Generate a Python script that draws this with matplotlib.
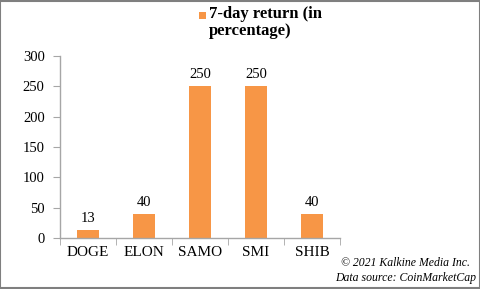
import matplotlib
matplotlib.use("Agg")
import matplotlib.pyplot as plt
from matplotlib.patches import Rectangle

categories = ["DOGE", "ELON", "SAMO", "SMI", "SHIB"]
values = [13, 40, 250, 250, 40]
series_name = "7-day return (in\npercentage)"
yticks = [0, 50, 100, 150, 200, 250, 300]

plt.rcParams['font.family'] = ['Liberation Serif', 'DejaVu Serif']
color = "#F79646"
axis_color = "#A6A6A6"
W, H = 481, 289

fig = plt.figure(figsize=(4.81, 2.89), dpi=100)
ax = fig.add_axes([60/W, 1-238/H, 280/W, 182/H])

x = list(range(len(categories)))
bars = ax.bar(x, values, width=0.4, color=color, zorder=2)
for xi, v in zip(x, values):
    ax.text(xi, v + 8, str(v), ha='center', va='bottom', fontsize=10.5, color='black')

ax.set_xlim(-0.5, len(categories) - 0.5)
ax.set_ylim(0, 300)
ax.set_yticks(yticks)
ax.set_yticklabels([str(t) for t in yticks], fontsize=10.5)
ax.set_xticks(x)
ax.set_xticklabels(categories, fontsize=11)
ax.tick_params(axis='x', length=0, pad=6)
ax.tick_params(axis='y', length=5, color=axis_color, pad=6)
ax.set_xticks([i - 0.5 for i in range(len(categories) + 1)], minor=True)
ax.tick_params(axis='x', which='minor', length=5, color=axis_color)
for s in ['top', 'right']:
    ax.spines[s].set_visible(False)
for s in ['left', 'bottom']:
    ax.spines[s].set_color(axis_color)
    ax.spines[s].set_linewidth(1)

# legend (manual, Excel style)
fig.patches.append(Rectangle((199/W, 1-19/H), 6.5/W, 6.5/H, transform=fig.transFigure,
                             facecolor=color, edgecolor='none'))
fig.text(209/W, 1-35/H, series_name, ha='left', va='baseline', fontsize=12,
         fontweight='bold', linespacing=1.05)

fig.text(470/W, 1-263/H, "© 2021 Kalkine Media Inc.", ha='right', va='center',
         fontsize=8.5, style='italic')
fig.text(476/W, 1-278/H, "Data source: CoinMarketCap", ha='right', va='center',
         fontsize=8.5, style='italic')

fig.patches.append(Rectangle((0.001, 0.002), 0.997, 0.995, transform=fig.transFigure,
                             fill=False, edgecolor='#7F7F7F', linewidth=1.5))

fig.savefig("out.png", dpi=100)
